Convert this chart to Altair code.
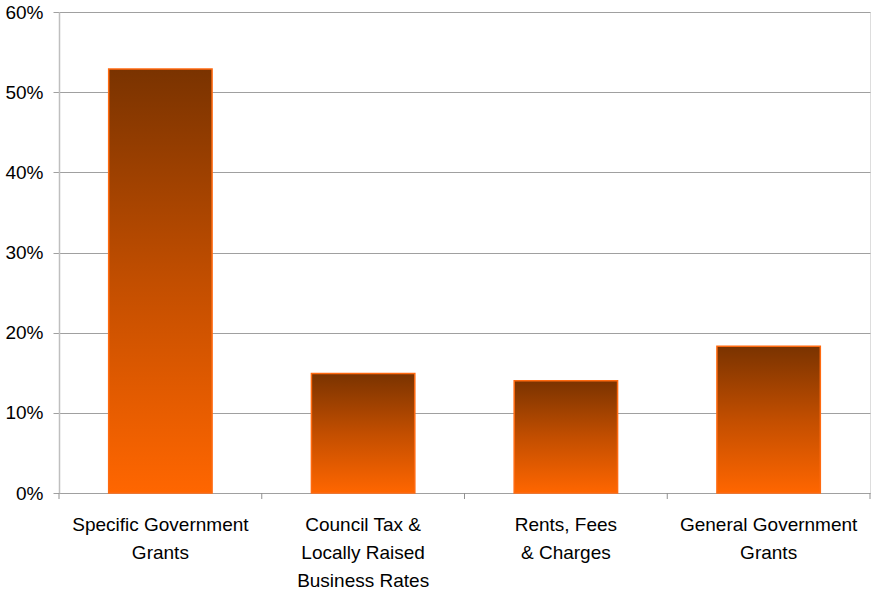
import altair as alt
import pandas as pd

categories = [
    "Specific Government\nGrants",
    "Council Tax &\nLocally Raised\nBusiness Rates",
    "Rents, Fees\n& Charges",
    "General Government\nGrants",
]
shares = [0.529, 0.149, 0.140, 0.183]
y_ticks = [0, 0.1, 0.2, 0.3, 0.4, 0.5, 0.6]
boundaries = [0, 1, 2, 3, 4]

df = pd.DataFrame({"category": categories, "share": shares})
bdf = pd.DataFrame({"b": boundaries})

W, H = 811, 481

grad = alt.Gradient(
    gradient="linear",
    stops=[alt.GradientStop(color="#7a3300", offset=0),
           alt.GradientStop(color="#c24e00", offset=0.5),
           alt.GradientStop(color="#ff6600", offset=1)],
    x1=0, x2=0, y1=0, y2=1,
)

bars = alt.Chart(df).mark_bar(fill=grad, stroke="#ff6a10", strokeWidth=1.5).encode(
    x=alt.X("category:N", sort=categories,
            scale=alt.Scale(paddingInner=0.49, paddingOuter=0.245),
            axis=alt.Axis(title=None, labelAngle=0, ticks=False, domain=False,
                          labelExpr="split(datum.label, '\\n')",
                          labelFont="Liberation Sans", labelFontSize=19,
                          labelColor="#000000", labelLineHeight=28,
                          labelPadding=22, labelBaseline="top", labelLimit=300)),
    y=alt.Y("share:Q", scale=alt.Scale(domain=[0, 0.6], nice=False),
            axis=alt.Axis(title=None, values=y_ticks, format=".0%",
                          grid=True, gridColor="#a0a0a0", gridWidth=1,
                          domainColor="#bfbfbf", domainWidth=1.5,
                          tickColor="#a0a0a0", tickSize=6,
                          labelFont="Liberation Sans", labelFontSize=19,
                          labelColor="#000000", labelPadding=10)),
)

ticks = alt.Chart(bdf).mark_rule(color="#909090", strokeWidth=1).encode(
    x=alt.X("b:Q", scale=alt.Scale(domain=[0, 4], nice=False, zero=False), axis=None),
    y=alt.value(H),
    y2=alt.value(H + 6),
)

chart = alt.layer(bars, ticks).resolve_scale(x="independent").properties(
    width=W, height=H,
    autosize=alt.AutoSizeParams(type="none"),
    padding={"left": 59, "top": 12, "right": 1, "bottom": 99},
).configure_view(stroke=None).configure(background="white")

chart.save("out.html", embed_options={"renderer": "svg", "actions": False})
